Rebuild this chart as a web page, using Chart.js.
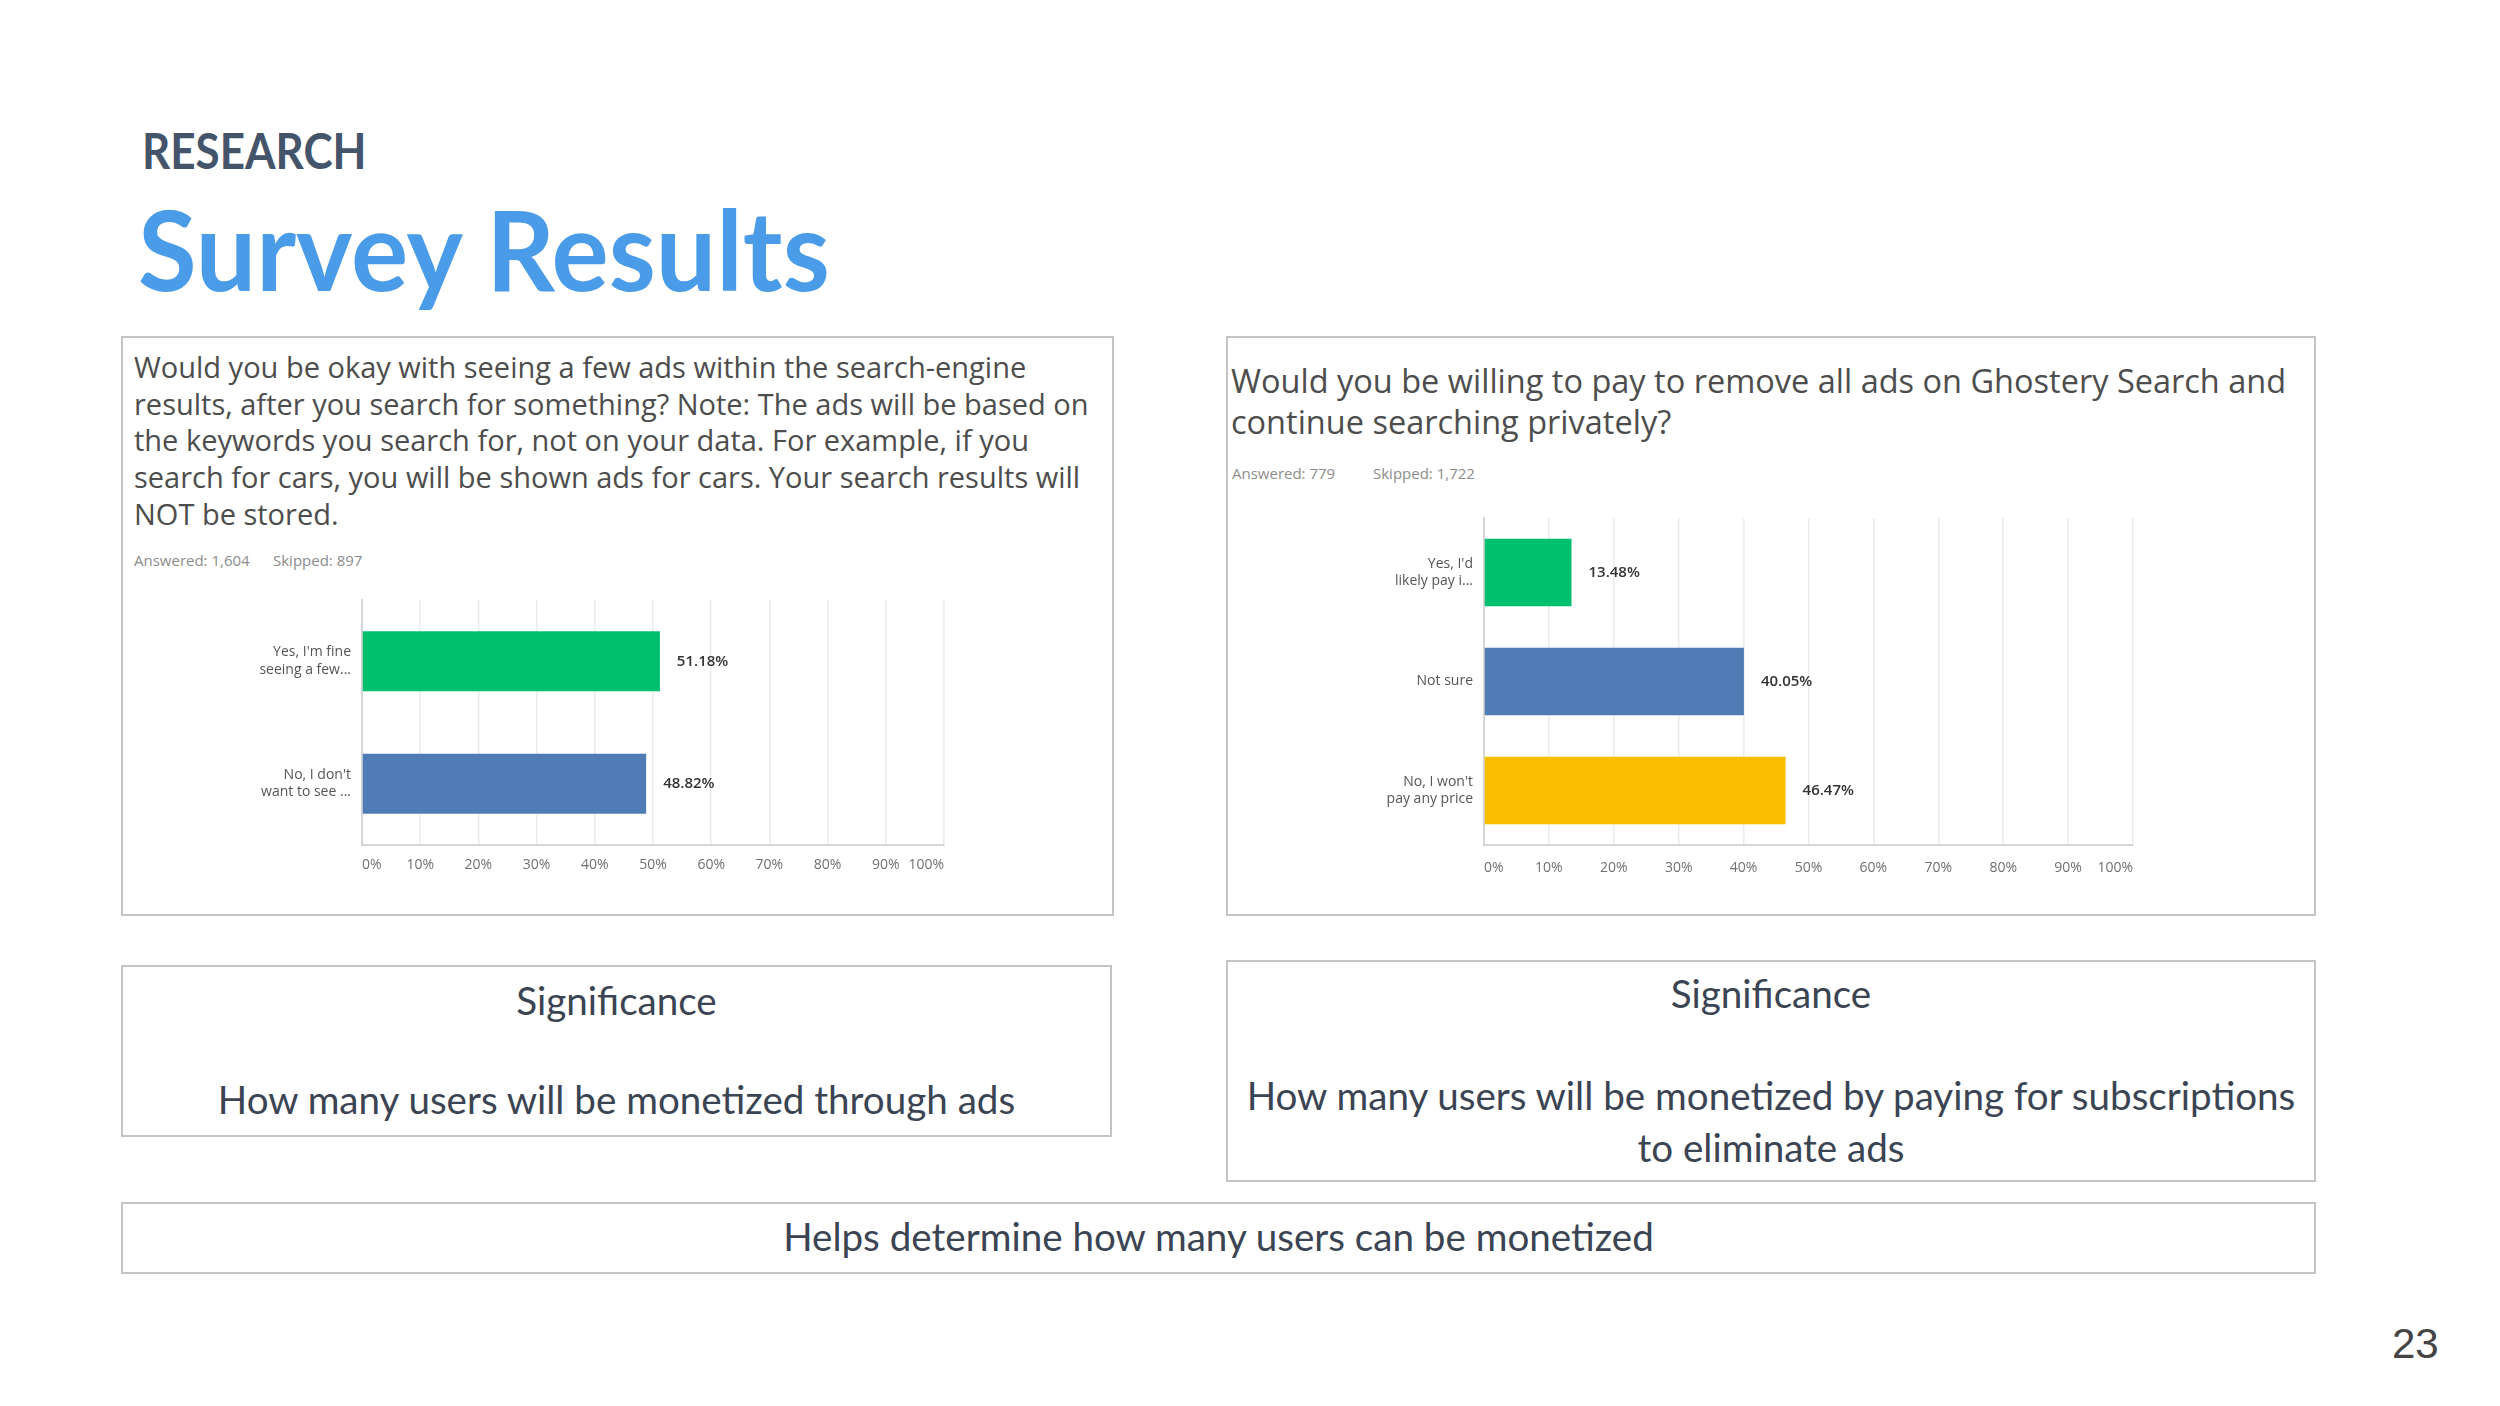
<!DOCTYPE html>
<html>
<head>
<meta charset="utf-8">
<script src="https://cdn.jsdelivr.net/npm/chart.js@4/dist/chart.umd.min.js"></script>
<style>
  body { margin: 0; background: #fff; width: 2500px; height: 1406px; position: relative; overflow: hidden; font-family: "Open Sans", sans-serif; }
  .abs { position: absolute; }
  .box { position: absolute; border: 2px solid #c4c4c4; box-sizing: border-box; }
  .kicker { left: 142px; top: 125px; font: bold 50px/1 Lato, sans-serif; color: #44546a; transform: scaleX(0.88); transform-origin: left top; }
  .title { left: 138px; top: 192px; font: bold 112px/1 Lato, sans-serif; color: #4a9be8; transform: scaleX(0.956); transform-origin: left top; }
  .question { color: #4d4d4d; font-weight: 400; white-space: nowrap; }
  .meta { font-size: 15px; color: #8c8c8c; }
  .sig { position: absolute; text-align: center; font: 38.6px Lato, sans-serif; color: #3b4453; }
  .pagenum { left: 2392px; top: 1320px; font: 42px "Liberation Sans", sans-serif; color: #444; }
</style>
</head>
<body>
<div class="abs kicker">RESEARCH</div>
<div class="abs title">Survey Results</div>

<div class="box" style="left:121px; top:336px; width:993px; height:580px;"></div>
<div class="abs question" style="left:134px; top:349px; font-size:29px; line-height:36.7px;">Would you be okay with seeing a few ads within the search-engine<br>results, after you search for something? Note: The ads will be based on<br>the keywords you search for, not on your data. For example, if you<br>search for cars, you will be shown ads for cars. Your search results will<br>NOT be stored.</div>
<div class="abs meta" style="left:134px; top:550px;">Answered: 1,604</div>
<div class="abs meta" style="left:273px; top:550px;">Skipped: 897</div>
<canvas id="adsChart" class="abs" style="left:150px; top:580px;"></canvas>

<div class="box" style="left:1226px; top:336px; width:1090px; height:580px;"></div>
<div class="abs question" style="left:1231px; top:360px; font-size:32.5px; line-height:41px;">Would you be willing to pay to remove all ads on Ghostery Search and<br>continue searching privately?</div>
<div class="abs meta" style="left:1232px; top:463px;">Answered: 779</div>
<div class="abs meta" style="left:1373px; top:463px;">Skipped: 1,722</div>
<canvas id="payChart" class="abs" style="left:1260px; top:498px;"></canvas>

<div class="box" style="left:121px; top:965px; width:991px; height:172px;"></div>
<div class="sig" style="left:121px; top:977px; width:991px;">Significance</div>
<div class="sig" style="left:121px; top:1076px; width:991px;">How many users will be monetized through ads</div>

<div class="box" style="left:1226px; top:960px; width:1090px; height:222px;"></div>
<div class="sig" style="left:1226px; top:970px; width:1090px;">Significance</div>
<div class="sig" style="left:1226px; top:1069px; width:1090px; line-height:52px;">How many users will be monetized by paying for subscriptions<br>to eliminate ads</div>

<div class="box" style="left:121px; top:1202px; width:2195px; height:72px;"></div>
<div class="sig" style="left:121px; top:1213px; width:2195px;">Helps determine how many users can be monetized</div>

<div class="abs pagenum">23</div>

<script>
// survey 1: ads in results
var adsLabels = [["Yes, I'm fine", "seeing a few..."], ["No, I don't", "want to see ..."]];
var adsValues = [51.18, 48.82];
var adsColors = ["#00bf6f", "#507cb6"];

// survey 2: pay to remove ads
var payLabels = [["Yes, I'd", "likely pay i..."], "Not sure", ["No, I won't", "pay any price"]];
var payValues = [13.48, 40.05, 46.47];
var payColors = ["#00bf6f", "#507cb6", "#f9be00"];

var xTicks = [0, 10, 20, 30, 40, 50, 60, 70, 80, 90, 100];

var chartFont = "'Open Sans', sans-serif";

// draws "51.18%" just after each bar
var valueLabels = {
    id: 'valueLabels',
    afterDatasetsDraw: function(chart){
        var ctx = chart.ctx;
        var ds = chart.data.datasets[0];
        var meta = chart.getDatasetMeta(0);
        ctx.save();
        ctx.font = "600 15px " + chartFont;
        ctx.fillStyle = "#333";
        ctx.textBaseline = "middle";
        ctx.textAlign = "left";
        meta.data.forEach(function(bar, i){
            ctx.fillText(ds.data[i].toFixed(2) + "%", bar.x + 17, bar.y);
        });
        ctx.restore();
    }
};

function surveyChart(id, labels, values, colors, opts){
    var canvas = document.getElementById(id);
    canvas.width = opts.w;
    canvas.height = opts.h;
    canvas.style.width = opts.w + "px";
    canvas.style.height = opts.h + "px";
    return new Chart(canvas, {
        type: 'bar',
        data: {
            labels: labels,
            datasets: [{
                data: values,
                backgroundColor: colors,
                borderWidth: 0,
                barPercentage: opts.barPct,
                categoryPercentage: 1
            }]
        },
        plugins: [valueLabels],
        options: {
            indexAxis: 'y',
            responsive: false,
            animation: false,
            layout: { padding: { top: 20, right: opts.padRight, bottom: 0, left: 0 } },
            plugins: { legend: { display: false }, tooltip: { enabled: false } },
            scales: {
                x: {
                    min: 0,
                    max: 100,
                    afterBuildTicks: function(scale){
                        scale.ticks = xTicks.map(function(v){ return { value: v }; });
                    },
                    afterFit: function(scale){
                        scale.height = opts.xh;
                        scale.paddingLeft = 0;
                        scale.paddingRight = 0;
                    },
                    grid: { color: "#ebebeb", lineWidth: 1.5, drawTicks: false },
                    border: { color: "#d6d6d6", width: 2 },
                    ticks: {
                        align: 'inner',
                        padding: opts.tickPad,
                        color: "#707070",
                        font: { family: chartFont, size: 14 },
                        callback: function(v){ return v + "%"; }
                    }
                },
                y: {
                    afterFit: function(scale){
                        scale.width = opts.yw;
                        scale.paddingTop = 0;
                        scale.paddingBottom = 0;
                    },
                    grid: { display: false, drawTicks: false },
                    border: { color: "#d6d6d6", width: 2 },
                    ticks: {
                        padding: 11,
                        color: "#555",
                        font: { family: chartFont, size: 14, lineHeight: 1.25 }
                    }
                }
            }
        }
    });
}

surveyChart("adsChart", adsLabels, adsValues, adsColors, { w: 900, h: 320, yw: 212, xh: 55, padRight: 106, barPct: 0.49, tickPad: 12 });
surveyChart("payChart", payLabels, payValues, payColors, { w: 1000, h: 400, yw: 224, xh: 53, padRight: 127, barPct: 0.62, tickPad: 15 });
</script>
</body>
</html>
